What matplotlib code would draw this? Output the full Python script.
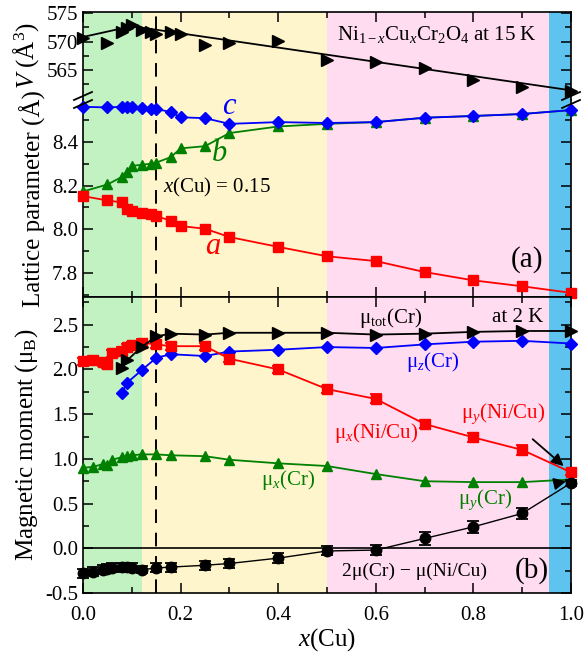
import numpy as np
import matplotlib
matplotlib.use("Agg")
from matplotlib import pyplot as plt
from matplotlib.ticker import MultipleLocator, FixedLocator, FormatStrFormatter
from matplotlib.lines import Line2D

plt.rcParams['font.family'] = ['Liberation Serif', 'DejaVu Serif']
plt.rcParams['mathtext.fontset'] = 'custom'
plt.rcParams['mathtext.rm'] = 'Liberation Serif'
plt.rcParams['mathtext.it'] = 'Liberation Serif:italic'
plt.rcParams['mathtext.bf'] = 'Liberation Serif:bold'

# %% data, panel (a)
xV = [0, 0.05, 0.08, 0.09, 0.1, 0.12, 0.14, 0.15, 0.18, 0.2, 0.25, 0.3, 0.4,
      0.5, 0.6, 0.7, 0.8, 0.9, 1.0]
V = [570.6, 569.8, 571.7, 572.4, 572.9, 572.0, 571.6, 571.4, 571.6, 571.3, 569.4,
     569.8, 570.1, 566.8, 566.4, 565.3, 563.2, 562.0, 561.3]
xVfit = [0, 0.1, 1.0]
Vfit = [570.8, 572.7, 561.4]

xlat = [0, 0.05, 0.08, 0.09, 0.1, 0.12, 0.14, 0.15, 0.18, 0.2, 0.25, 0.3, 0.4,
        0.5, 0.6, 0.7, 0.8, 0.9, 1.0]
lat_a = [8.152, 8.132, 8.123, 8.095, 8.082, 8.077, 8.068, 8.060, 8.040, 8.015,
         8.003, 7.965, 7.920, 7.877, 7.855, 7.805, 7.767, 7.740, 7.710]
lat_b = [8.173, 8.205, 8.240, 8.262, 8.290, 8.295, 8.300, 8.305, 8.330, 8.370,
         8.380, 8.440, 8.470, 8.482, 8.490, 8.510, 8.518, 8.527, 8.545]
lat_c = [8.560, 8.557, 8.560, 8.560, 8.560, 8.553, 8.552, 8.550, 8.536, 8.512,
         8.508, 8.482, 8.490, 8.486, 8.490, 8.510, 8.518, 8.527, 8.545]

# %% data, panel (b)
xtot = [0.08, 0.09, 0.12, 0.15, 0.18, 0.25, 0.3, 0.4, 0.5, 0.6, 0.7, 0.8, 0.9, 1.0]
mu_tot = [2.02, 2.10, 2.25, 2.37, 2.40, 2.39, 2.41, 2.41, 2.41, 2.39, 2.40, 2.42, 2.43, 2.43]
mu_z = [1.74, 1.85, 1.99, 2.13, 2.17, 2.15, 2.20, 2.22, 2.25, 2.24, 2.28, 2.31, 2.32, 2.29]

xlow = [0, 0.02, 0.04, 0.05, 0.06, 0.08, 0.09, 0.1, 0.12, 0.15, 0.18, 0.25, 0.3, 0.4,
        0.5, 0.6, 0.7, 0.8, 0.9, 1.0]
mu_x_ni = [2.09, 2.11, 2.08, 2.06, 2.18, 2.21, 2.25, 2.27, 2.30, 2.28, 2.26, 2.26, 2.12, 2.00,
           1.78, 1.67, 1.39, 1.24, 1.10, 0.85]
err_ni = [0.04, 0.04, 0.04, 0.04, 0.04, 0.04, 0.04, 0.04, 0.04, 0.04, 0.04, 0.04, 0.04, 0.04,
          0.04, 0.05, 0.05, 0.05, 0.06, 0.03]
mu_x_cr = [0.90, 0.91, 0.94, 0.93, 0.99, 1.02, 1.03, 1.04, 1.05, 1.05, 1.04, 1.03, 0.99, 0.95,
           0.92, 0.83, 0.75, 0.74, 0.74, 0.77]
diff = [-0.28, -0.26, -0.24, -0.23, -0.22, -0.21, -0.21, -0.22, -0.24, -0.22, -0.21, -0.19,
        -0.17, -0.11, -0.03, -0.02, 0.11, 0.24, 0.39, 0.73]
err_diff = [0.05, 0.05, 0.05, 0.05, 0.05, 0.05, 0.05, 0.05, 0.04, 0.05, 0.05, 0.05, 0.05, 0.06,
            0.05, 0.06, 0.07, 0.07, 0.06, 0.03]

# %% figure
W, H = 586, 653
fig = plt.figure(figsize=(W / 100, H / 100), dpi=100)
L, R = 83 / W, 571 / W
def box(top, bot):
    return [L, 1 - bot / H, R - L, (bot - top) / H]

axV = fig.add_axes(box(12, 100))
axL = fig.add_axes(box(100, 297))
axM = fig.add_axes(box(297, 593))

regions = [(0, 0.12, '#c2f1c2'), (0.12, 0.5, '#fff5cd'), (0.5, 0.955, '#ffdcef'),
           (0.955, 1.0, '#5ec4ef')]
for ax in (axV, axL, axM):
    for a, b, col in regions:
        ax.axvspan(a, b, color=col, lw=0, zorder=0)
    ax.axvline(0.15, color='k', ls=(0, (7, 5)), lw=1.4, zorder=1)
    ax.set_xlim(0, 1)
    ax.xaxis.set_major_locator(MultipleLocator(0.2))
    ax.xaxis.set_minor_locator(MultipleLocator(0.1))
    ax.tick_params(which='both', direction='in', top=True, right=True, labelsize=15,
                   width=1.1)
    ax.tick_params(which='major', length=7)
    ax.tick_params(which='minor', length=4)
    for s in ax.spines.values():
        s.set_linewidth(1.2)

# upper V
axV.plot(xVfit, Vfit, color='k', lw=1.3, zorder=2)
axV.plot(xV, V, ls='none', marker='>', ms=8, color='k', zorder=3, clip_on=False)
axV.set_ylim(559.7, 575.2)
axV.yaxis.set_major_locator(FixedLocator([565, 570, 575]))
axV.yaxis.set_minor_locator(FixedLocator([562.5, 567.5, 572.5]))
axV.spines['bottom'].set_visible(False)
axV.tick_params(which='both', bottom=False, labelbottom=False)
axV.set_ylabel(r'$V$ (Å$^3$)', fontsize=18, labelpad=4)
axV.text(0.725, 571.3, r'Ni$_{1-x}$Cu$_x$Cr$_2$O$_4$ at 15 K', fontsize=15,
         ha='center', va='center')

# lower lattice
axL.plot(xlat, lat_b, color='#008000', marker='^', ms=7, lw=1.3, zorder=3, clip_on=False)
axL.plot(xlat, lat_c, color='#0000ff', marker='D', ms=6.5, lw=1.3, zorder=4, clip_on=False)
axL.plot(xlat, lat_a, color='#ff0000', marker='s', ms=6.5, lw=1.3, zorder=4, clip_on=False)
axL.set_ylim(7.691, 8.591)
axL.yaxis.set_major_locator(MultipleLocator(0.2))
axL.yaxis.set_minor_locator(MultipleLocator(0.1))
axL.yaxis.set_major_formatter(FormatStrFormatter('%.1f'))
axL.spines['top'].set_visible(False)
axL.tick_params(which='both', top=False, labelbottom=False)
axL.set_ylabel('Lattice parameter (Å)', fontsize=18, labelpad=4)
axL.text(0.30, 8.56, r'$c$', color='#0000ff', fontsize=22, ha='center', va='center')
axL.text(0.28, 8.345, r'$b$', color='#008000', fontsize=22, ha='center', va='center')
axL.text(0.267, 7.92, r'$a$', color='#ff0000', fontsize=22, ha='center', va='center')
axL.text(0.164, 8.19, r'$x$(Cu) = 0.15', fontsize=15, ha='left', va='center')
axL.text(0.91, 7.86, '(a)', fontsize=21, ha='center', va='center')

# break marks on both side spines
for xs in (0.0, 1.0):
    for dy in (-4, 4):
        xc = L + xs * (R - L)
        yc = 1 - (100 + dy) / H
        fig.lines.append(Line2D([xc - 9 / W, xc + 9 / W], [yc - 4 / H, yc + 4 / H],
                                color='k', lw=1.3, transform=fig.transFigure))

# magnetic moments
axM.axhline(0, color='k', lw=1.2, zorder=1)
axM.plot(xtot, mu_tot, color='k', marker='>', ms=8, lw=1.3, zorder=4, clip_on=False)
axM.plot(xtot, mu_z, color='#0000ff', marker='D', ms=6.5, lw=1.3, zorder=3, clip_on=False)
axM.errorbar(xlow, mu_x_ni, yerr=err_ni, color='#ff0000', marker='s', ms=6.5, lw=1.3,
             capsize=4, elinewidth=1.3, capthick=1.3, zorder=3, clip_on=False)
axM.plot(xlow, mu_x_cr, color='#008000', marker='^', ms=7, lw=1.3, zorder=3, clip_on=False)
axM.errorbar(xlow, diff, yerr=err_diff, color='k', marker='o', ms=7.5, lw=1.0,
             capsize=4, elinewidth=1.3, capthick=1.3, zorder=3, clip_on=False)
axM.set_ylim(-0.5, 2.81)
axM.yaxis.set_major_locator(MultipleLocator(0.5))
axM.yaxis.set_minor_locator(MultipleLocator(0.25))
axM.yaxis.set_major_formatter(FormatStrFormatter('%.1f'))
axM.set_ylabel(r'Magnetic moment (μ$_{\rm B}$)', fontsize=18, labelpad=4)
axM.set_xlabel(r'$x$(Cu)', fontsize=18, labelpad=1)
axM.tick_params(axis='x', pad=9)

axM.text(0.63, 2.58, r'μ$_{\rm tot}$(Cr)', fontsize=15, ha='center', va='center')
axM.text(0.89, 2.58, 'at 2 K', fontsize=15, ha='center', va='center')
axM.text(0.717, 2.08, r'μ$_z$(Cr)', fontsize=15, color='#0000ff', ha='center', va='center')
axM.text(0.60, 1.29, r'μ$_x$(Ni/Cu)', fontsize=15, color='#ff0000', ha='center', va='center')
axM.text(0.42, 0.76, r'μ$_x$(Cr)', fontsize=15, color='#008000', ha='center', va='center')
axM.text(0.68, -0.26, '2μ(Cr) \u2212 μ(Ni/Cu)', fontsize=14, ha='center', va='center')
axM.text(0.92, -0.25, '(b)', fontsize=21, ha='center', va='center')
axM.annotate(r'μ$_y$(Ni/Cu)', xy=(0.985, 0.92), xytext=(0.86, 1.51), fontsize=15,
             color='#ff0000', ha='center', va='center',
             arrowprops=dict(arrowstyle='-|>', color='k', lw=1.3, mutation_scale=18,
                             shrinkA=12, shrinkB=0))
axM.annotate(r'μ$_y$(Cr)', xy=(0.99, 0.75), xytext=(0.824, 0.54), fontsize=15,
             color='#008000', ha='center', va='center',
             arrowprops=dict(arrowstyle='-|>', color='k', lw=1.3, mutation_scale=18,
                             shrinkA=30, shrinkB=0))

fig.savefig('out.png', dpi=100)
